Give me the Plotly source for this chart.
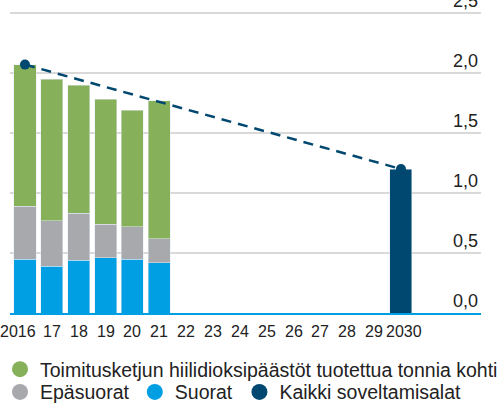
import plotly.graph_objects as go

years = [2016, 2017, 2018, 2019, 2020, 2021]
suorat = [0.45, 0.39, 0.44, 0.46, 0.45, 0.42]
epasuorat = [0.44, 0.38, 0.39, 0.28, 0.27, 0.20]
toimitusketju = [1.18, 1.18, 1.07, 1.04, 0.97, 1.15]
target_year = [2030]
target_value = [1.20]
path_years = [2016, 2030]
path_values = [2.07, 1.20]

tick_years = list(range(2016, 2031))
tick_labels = ["2016", "17", "18", "19", "20", "21", "22", "23", "24",
               "25", "26", "27", "28", "29", "2030"]
y_ticks = [0, 0.5, 1.0, 1.5, 2.0, 2.5]

GREEN = "#87b05b"
GRAY = "#a7a9ac"
BLUE = "#009fe3"
NAVY = "#00486f"
FONT = "Liberation Sans, Arial, sans-serif"

names = {
    "green": "Toimitusketjun hiilidioksipäästöt tuotettua tonnia kohti",
    "gray": "Epäsuorat",
    "blue": "Suorat",
    "navy": "Kaikki soveltamisalat",
}

fig = go.Figure()
bw = 0.82
fig.add_trace(go.Bar(x=years, y=suorat, marker_color=BLUE, width=bw, showlegend=False))
fig.add_trace(go.Bar(x=years, y=epasuorat, marker_color=GRAY, width=bw, showlegend=False))
fig.add_trace(go.Bar(x=years, y=toimitusketju, marker_color=GREEN, width=bw, showlegend=False))
fig.add_trace(go.Bar(x=target_year, y=target_value, marker_color=NAVY, width=bw, showlegend=False))
fig.add_trace(go.Scatter(x=path_years, y=path_values, mode="lines+markers",
                         line=dict(color=NAVY, width=2.5, dash="10px,7px"),
                         marker=dict(color=NAVY, size=10), showlegend=False))

for key, col, lg in [("green", GREEN, "legend"), ("gray", GRAY, "legend2"),
                     ("blue", BLUE, "legend3"), ("navy", NAVY, "legend4")]:
    fig.add_trace(go.Scatter(x=[None], y=[None], mode="markers", name=names[key], legend=lg,
                             marker=dict(color=col, size=18, symbol="circle")))

legend_common = dict(orientation="h", xref="container", yref="container", xanchor="left",
                     yanchor="top", font=dict(size=19.5, family=FONT, color="#222222"),
                     traceorder="normal", itemsizing="trace", bgcolor="rgba(0,0,0,0)")

# x tick labels as annotations so the end labels can be nudged like the original
annotations = []
for yr, lab in zip(tick_years, tick_labels):
    shift = -7 if yr == tick_years[0] else (3 if yr == tick_years[-1] else 0)
    annotations.append(dict(x=yr, y=0, xref="x", yref="y", text=lab, showarrow=False,
                            xanchor="center", yanchor="middle", xshift=shift, yshift=-18.4,
                            font=dict(size=16, family=FONT, color="#222222")))

fig.update_layout(
    width=503, height=406,
    barmode="stack",
    separators=", ",
    plot_bgcolor="white", paper_bgcolor="white",
    margin=dict(l=10, r=22, t=1.3, b=92.7, autoexpand=False),
    font=dict(family=FONT, color="#222222"),
    legend=dict(x=-0.004, y=0.138, **legend_common),
    legend2=dict(x=-0.004, y=0.082, **legend_common),
    legend3=dict(x=0.268, y=0.082, **legend_common),
    legend4=dict(x=0.476, y=0.082, **legend_common),
    annotations=annotations,
)
fig.update_xaxes(
    range=[2015.442, 2032.98],
    tickmode="array", tickvals=tick_years, showticklabels=False,
    showgrid=False, showline=True, linecolor=BLUE, linewidth=2,
    ticks="", zeroline=False,
)
fig.update_yaxes(
    range=[0, 2.6], side="right",
    tickmode="array", tickvals=y_ticks, tickformat=".1f",
    ticklabelposition="inside top", ticklabeloverflow="allow",
    tickfont=dict(size=18, family=FONT, color="#222222"),
    showgrid=True, gridcolor="#d9d9d9", gridwidth=1.5,
    zeroline=False, showline=False, ticks="",
)

fig.write_html("out.html", config={"displayModeBar": False},
               post_script="document.body.style.margin='0';")
